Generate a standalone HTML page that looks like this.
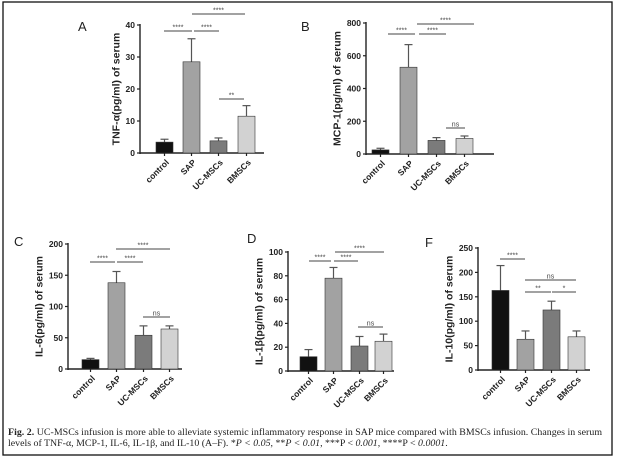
<!DOCTYPE html>
<html><head><meta charset="utf-8"><style>
html,body{margin:0;padding:0;background:#fff;}
svg{display:block;}
</style></head><body>
<svg id="s" width="617" height="461" xmlns="http://www.w3.org/2000/svg" font-family="Liberation Sans, sans-serif">
<rect x="3" y="2" width="609" height="453" fill="#fff" stroke="#111" stroke-width="1.3"/>
<text x="8" y="435" font-family="Liberation Serif, serif" font-size="9.9" fill="#222" textLength="594"><tspan font-weight="bold">Fig. 2.</tspan> UC-MSCs infusion is more able to alleviate systemic inflammatory response in SAP mice compared with BMSCs infusion. Changes in serum</text>
<text x="8" y="446" font-family="Liberation Serif, serif" font-size="9.9" fill="#222">levels of TNF-α, MCP-1, IL-6, IL-1β, and IL-10 (A–F). *<tspan font-style="italic">P &lt; 0.05</tspan>, **<tspan font-style="italic">P &lt; 0.01</tspan>, ***P &lt; <tspan font-style="italic">0.001</tspan>, ****P &lt; <tspan font-style="italic">0.0001</tspan>.</text>
</svg>
<script>
var s=document.getElementById('s');var h='';
var cols=['#111','#a2a2a2','#7b7b7b','#d2d2d2'];var cats=['control','SAP','UC-MSCs','BMSCs'];
function P(o){
 var ax=o.ax,y0=o.y0,yt=o.yt,max=o.max;function Y(v){return y0-(v/max)*(y0-yt);}
 h+='<text x="'+o.lx+'" y="'+o.ly+'" font-size="13" fill="#222">'+o.L+'</text>';
 h+='<line x1="'+ax+'" y1="'+(yt-1)+'" x2="'+ax+'" y2="'+(y0+1)+'" stroke="#222" stroke-width="1.4"/>';
 h+='<line x1="'+ax+'" y1="'+y0+'" x2="'+o.ae+'" y2="'+y0+'" stroke="#222" stroke-width="1.4"/>';
 var mw=0;
 o.ticks.forEach(function(t){var y=Y(t);mw=Math.max(mw,String(t).length);h+='<line x1="'+(ax-3)+'" y1="'+y+'" x2="'+ax+'" y2="'+y+'" stroke="#222" stroke-width="1.2"/><text x="'+(ax-5)+'" y="'+(y+3)+'" font-size="8.5" font-weight="bold" text-anchor="end" fill="#222">'+t+'</text>';});
 var yx=ax-7-mw*5.2-3;
 h+='<text transform="translate('+yx+','+((y0+yt)/2)+') rotate(-90)" font-size="10.5" font-weight="bold" text-anchor="middle" fill="#222">'+o.yl+'</text>';
 o.bars.forEach(function(b,i){var x=o.bx[i],w=17,c=x+w/2;
  h+='<line x1="'+c+'" y1="'+Y(b[0])+'" x2="'+c+'" y2="'+Y(b[1])+'" stroke="#555" stroke-width="1.2"/><line x1="'+(c-4)+'" y1="'+Y(b[1])+'" x2="'+(c+4)+'" y2="'+Y(b[1])+'" stroke="#555" stroke-width="1.2"/>';
  h+='<rect x="'+x+'" y="'+Y(b[0])+'" width="'+w+'" height="'+(y0-Y(b[0]))+'" fill="'+cols[i]+'" stroke="#333" stroke-width="0.6"/>';
  h+='<line x1="'+c+'" y1="'+y0+'" x2="'+c+'" y2="'+(y0+3)+'" stroke="#222" stroke-width="1.2"/>';
  h+='<text transform="translate('+(c+5)+','+(y0+10)+') rotate(-45)" font-size="8.5" font-weight="bold" text-anchor="end" fill="#222">'+cats[i]+'</text>';});
 o.sig.forEach(function(g){h+='<line x1="'+g[1]+'" y1="'+g[0]+'" x2="'+g[2]+'" y2="'+g[0]+'" stroke="#444" stroke-width="0.9"/><text x="'+((g[1]+g[2])/2)+'" y="'+(g[0]-1.5)+'" font-size="7" text-anchor="middle" fill="#444">'+g[3]+'</text>';});
}
P({L:'A',lx:78,ly:31,ax:140,y0:153,yt:25,max:40,ae:264,ticks:[0,10,20,30,40],yl:'TNF-α(pg/ml) of serum',bx:[156,183,210,238],bars:[[3.4,4.3],[28.5,35.7],[3.8,4.7],[11.5,14.8]],sig:[[31,164,192,'****'],[31,194,219,'****'],[14,192,245,'****'],[99,219,244,'**']]});
P({L:'B',lx:301,ly:31,ax:366,y0:154,yt:23,max:800,ae:494,ticks:[0,200,400,600,800],yl:'MCP-1(pg/ml) of serum',bx:[372,400,428,456],bars:[[25,35],[530,668],[83,100],[95,110]],sig:[[34,388,415,'****'],[34,419,446,'****'],[24,417,474,'****'],[128,446,465,'ns']]});
P({L:'C',lx:14,ly:246,ax:68,y0:369,yt:244,max:200,ae:182,ticks:[0,50,100,150,200],yl:'IL-6(pg/ml) of serum',bx:[82,108,135,161],bars:[[15,17],[138,156],[54,69],[64,69]],sig:[[262,90,115,'****'],[262,117,143,'****'],[249,116,170,'****'],[317,143,170,'ns']]});
P({L:'D',lx:247,ly:243,ax:288,y0:371,yt:252,max:100,ae:394,ticks:[0,20,40,60,80,100],yl:'IL-1β(pg/ml) of serum',bx:[300,325,351,375],bars:[[12,18],[78,87],[21,29],[25,31]],sig:[[261,309,331,'****'],[261,334,358,'****'],[252,335,384,'****'],[327,358,383,'ns']]});
P({L:'F',lx:425,ly:247,ax:478,y0:370,yt:248,max:250,ae:590,ticks:[0,50,100,150,200,250],yl:'IL-10(pg/ml) of serum',bx:[492,517,543,568],bars:[[163,214],[63,80],[123,141],[68,80]],sig:[[259,500,525,'****'],[280,525,576,'ns'],[292,525,551,'**'],[292,552,576,'*']]});
s.insertAdjacentHTML('beforeend',h);
</script>
</body></html>
